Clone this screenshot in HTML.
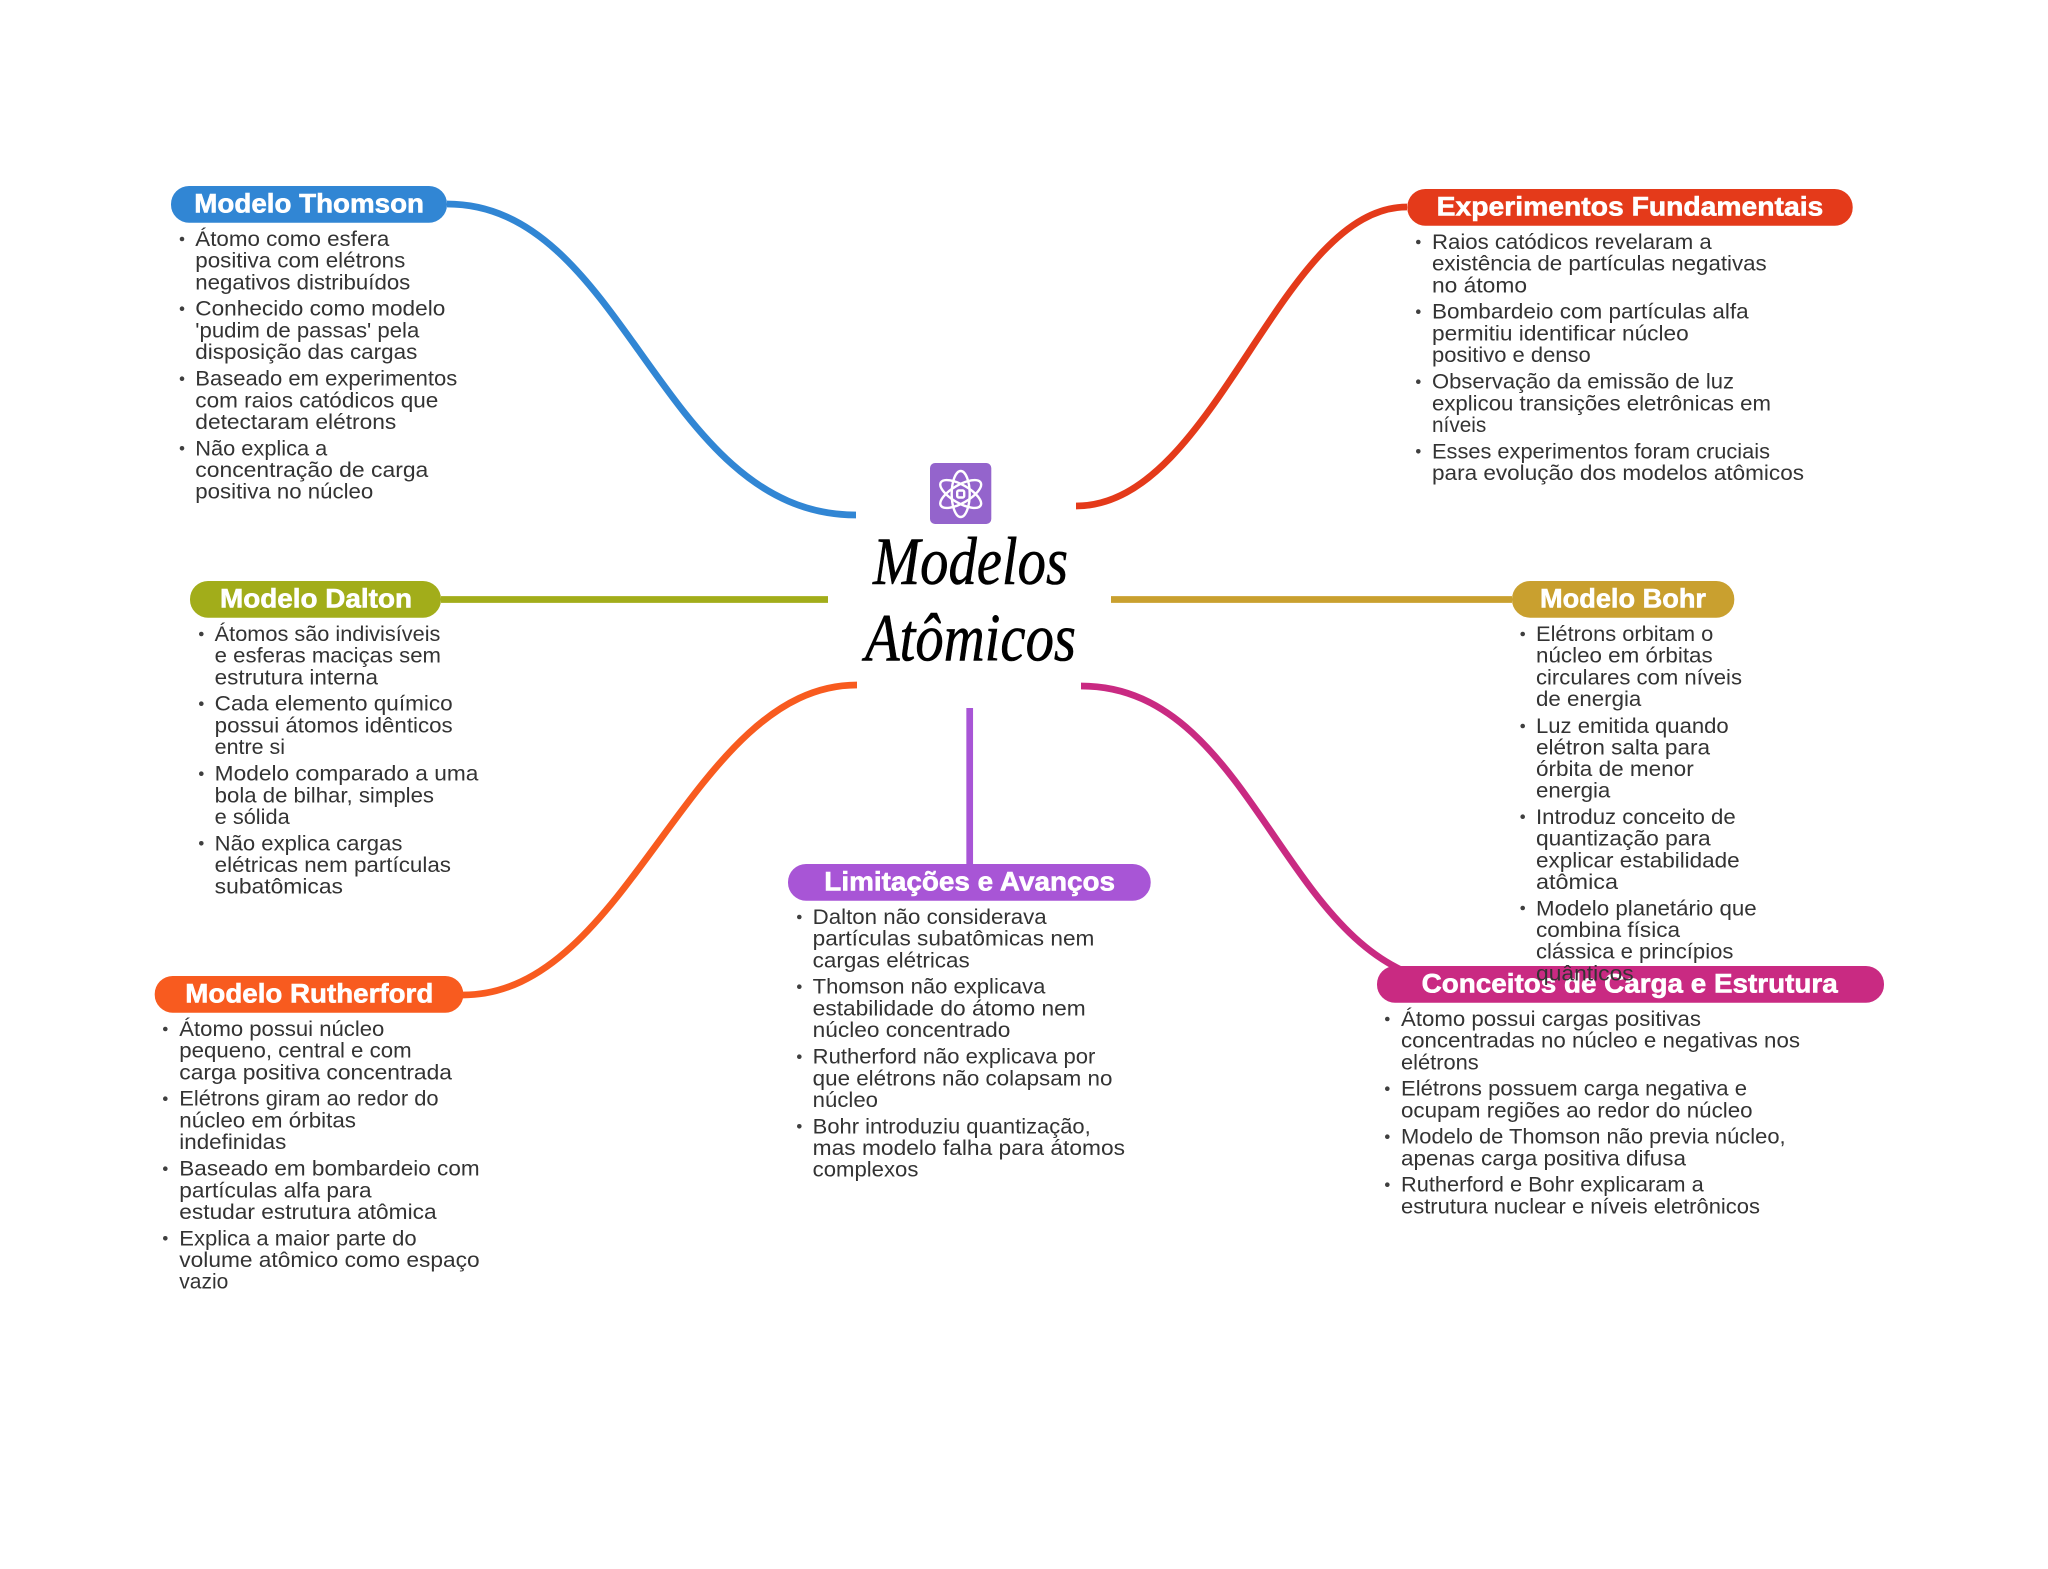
<!DOCTYPE html>
<html lang="pt"><head><meta charset="utf-8"><title>Modelos Atômicos</title>
<style>
html,body{margin:0;padding:0;background:#fff;width:2048px;height:1569px;overflow:hidden}
svg{display:block}
.b text{font-family:"Liberation Sans",sans-serif;font-size:21px;fill:#333}
.t{font-family:"Liberation Sans",sans-serif;font-size:27px;font-weight:700;fill:#fff;stroke:#fff;stroke-width:.6}
.m{font-family:"Liberation Serif",serif;font-style:italic;font-size:68px;fill:#000;stroke:#000;stroke-width:.6}
</style></head><body>
<svg xmlns="http://www.w3.org/2000/svg" width="2048" height="1569" viewBox="0 0 2048 1569">
<rect width="2048" height="1569" fill="#fff"/>
<g fill="none" stroke-width="6.7">
<path d="M447,204 C626,204 660,515 856,515" stroke="#3186d4"/>
<path d="M1076,506 C1216,506 1279,207 1407,207" stroke="#e43a1a"/>
<path d="M463,995 C630,995 690,685 857,685" stroke="#f85b1f"/>
<path d="M1081,686 C1262,686 1285,984 1465,984" stroke="#c92a82"/>
<path d="M441,599.5 H828" stroke="#a2ad1a"/>
<path d="M1111,599.5 H1512" stroke="#c9a02f"/>
<path d="M969.7,708 V864" stroke="#a855d6"/>
</g>
<rect x="930" y="463" width="61.3" height="61" rx="5" fill="#9464cc"/>
<g fill="none" stroke="#fff" stroke-width="2.4" transform="translate(960.7 494)">
<ellipse rx="9" ry="23"/>
<ellipse rx="9" ry="23" transform="rotate(60)"/>
<ellipse rx="9" ry="23" transform="rotate(-60)"/>
<rect x="-3.5" y="-3.5" width="7" height="7" rx="1.5"/>
</g>
<text class="m" x="873" y="584" textLength="195" lengthAdjust="spacingAndGlyphs">Modelos</text>
<text class="m" x="865" y="660.7" textLength="211" lengthAdjust="spacingAndGlyphs">Atômicos</text>

<rect x="171" y="186" width="276" height="36.7" rx="18" fill="#3186d4"/>
<rect x="1407.3" y="189" width="445.4" height="36.7" rx="18" fill="#e43a1a"/>
<rect x="190" y="581" width="251" height="36.7" rx="18" fill="#a2ad1a"/>
<rect x="1512" y="581" width="222.3" height="36.7" rx="18" fill="#c9a02f"/>
<rect x="154.7" y="976" width="308.6" height="36.7" rx="18" fill="#f85b1f"/>
<rect x="788" y="864" width="362.7" height="36.7" rx="18" fill="#a855d6"/>
<rect x="1377" y="966" width="507" height="36.7" rx="18" fill="#c92a82"/>

<text class="t" x="194.3" y="212.7" textLength="229.7" lengthAdjust="spacingAndGlyphs">Modelo Thomson</text>
<text class="t" x="1436.7" y="215.7" textLength="386.6" lengthAdjust="spacingAndGlyphs">Experimentos Fundamentais</text>
<text class="t" x="220" y="607.7" textLength="192" lengthAdjust="spacingAndGlyphs">Modelo Dalton</text>
<text class="t" x="1540" y="607.7" textLength="166" lengthAdjust="spacingAndGlyphs">Modelo Bohr</text>
<text class="t" x="185.3" y="1002.7" textLength="248" lengthAdjust="spacingAndGlyphs">Modelo Rutherford</text>
<text class="t" x="824.3" y="890.7" textLength="290.7" lengthAdjust="spacingAndGlyphs">Limitações e Avanços</text>
<text class="t" x="1421.7" y="992.7" textLength="416" lengthAdjust="spacingAndGlyphs">Conceitos de Carga e Estrutura</text>

<g fill="#3f3f3f">
<circle cx="182" cy="239" r="2.3"/><circle cx="182" cy="308.7" r="2.3"/><circle cx="182" cy="378.7" r="2.3"/><circle cx="182" cy="448.3" r="2.3"/>
<circle cx="1418.3" cy="242" r="2.3"/><circle cx="1418.3" cy="311.7" r="2.3"/><circle cx="1418.3" cy="381.7" r="2.3"/><circle cx="1418.3" cy="451.3" r="2.3"/>
<circle cx="201.3" cy="634" r="2.3"/><circle cx="201.3" cy="703.7" r="2.3"/><circle cx="201.3" cy="773.7" r="2.3"/><circle cx="201.3" cy="843.3" r="2.3"/>
<circle cx="165.3" cy="1029" r="2.3"/><circle cx="165.3" cy="1098.7" r="2.3"/><circle cx="165.3" cy="1168.7" r="2.3"/><circle cx="165.3" cy="1238.3" r="2.3"/>
<circle cx="799.3" cy="917" r="2.3"/><circle cx="799.3" cy="986.7" r="2.3"/><circle cx="799.3" cy="1056.7" r="2.3"/><circle cx="799.3" cy="1126.3" r="2.3"/>
<circle cx="1387.3" cy="1019" r="2.3"/><circle cx="1387.3" cy="1088.7" r="2.3"/><circle cx="1387.3" cy="1136.7" r="2.3"/><circle cx="1387.3" cy="1184.7" r="2.3"/>
<circle cx="1522.7" cy="634" r="2.3"/><circle cx="1522.7" cy="726" r="2.3"/><circle cx="1522.7" cy="816.7" r="2.3"/><circle cx="1522.7" cy="908" r="2.3"/>
</g>

<g class="b">
<text x="195.3" y="246" textLength="194" lengthAdjust="spacingAndGlyphs">Átomo como esfera</text>
<text x="195.3" y="267.7" textLength="210" lengthAdjust="spacingAndGlyphs">positiva com elétrons</text>
<text x="195.3" y="289.3" textLength="215" lengthAdjust="spacingAndGlyphs">negativos distribuídos</text>
<text x="195.3" y="315.7" textLength="250" lengthAdjust="spacingAndGlyphs">Conhecido como modelo</text>
<text x="195.3" y="337.3" textLength="224" lengthAdjust="spacingAndGlyphs">'pudim de passas' pela</text>
<text x="195.3" y="359" textLength="222" lengthAdjust="spacingAndGlyphs">disposição das cargas</text>
<text x="195.3" y="385.7" textLength="262" lengthAdjust="spacingAndGlyphs">Baseado em experimentos</text>
<text x="195.3" y="407.3" textLength="243" lengthAdjust="spacingAndGlyphs">com raios catódicos que</text>
<text x="195.3" y="429" textLength="201" lengthAdjust="spacingAndGlyphs">detectaram elétrons</text>
<text x="195.3" y="455.3" textLength="132" lengthAdjust="spacingAndGlyphs">Não explica a</text>
<text x="195.3" y="477" textLength="233" lengthAdjust="spacingAndGlyphs">concentração de carga</text>
<text x="195.3" y="498.7" textLength="178" lengthAdjust="spacingAndGlyphs">positiva no núcleo</text>

<text x="1432" y="249" textLength="279.7" lengthAdjust="spacingAndGlyphs">Raios catódicos revelaram a</text>
<text x="1432" y="270.7" textLength="334.7" lengthAdjust="spacingAndGlyphs">existência de partículas negativas</text>
<text x="1432" y="292.3" textLength="95" lengthAdjust="spacingAndGlyphs">no átomo</text>
<text x="1432" y="318.7" textLength="316.7" lengthAdjust="spacingAndGlyphs">Bombardeio com partículas alfa</text>
<text x="1432" y="340.3" textLength="256.7" lengthAdjust="spacingAndGlyphs">permitiu identificar núcleo</text>
<text x="1432" y="362" textLength="158.7" lengthAdjust="spacingAndGlyphs">positivo e denso</text>
<text x="1432" y="388.7" textLength="302" lengthAdjust="spacingAndGlyphs">Observação da emissão de luz</text>
<text x="1432" y="410.3" textLength="339" lengthAdjust="spacingAndGlyphs">explicou transições eletrônicas em</text>
<text x="1432" y="432" textLength="54.3" lengthAdjust="spacingAndGlyphs">níveis</text>
<text x="1432" y="458.3" textLength="338" lengthAdjust="spacingAndGlyphs">Esses experimentos foram cruciais</text>
<text x="1432" y="480" textLength="372" lengthAdjust="spacingAndGlyphs">para evolução dos modelos atômicos</text>

<text x="214.7" y="641" textLength="225.7" lengthAdjust="spacingAndGlyphs">Átomos são indivisíveis</text>
<text x="214.7" y="662.7" textLength="226.3" lengthAdjust="spacingAndGlyphs">e esferas maciças sem</text>
<text x="214.7" y="684.3" textLength="163.3" lengthAdjust="spacingAndGlyphs">estrutura interna</text>
<text x="214.7" y="710.7" textLength="238" lengthAdjust="spacingAndGlyphs">Cada elemento químico</text>
<text x="214.7" y="732.3" textLength="238" lengthAdjust="spacingAndGlyphs">possui átomos idênticos</text>
<text x="214.7" y="754" textLength="70.3" lengthAdjust="spacingAndGlyphs">entre si</text>
<text x="214.7" y="780.7" textLength="263.7" lengthAdjust="spacingAndGlyphs">Modelo comparado a uma</text>
<text x="214.7" y="802.3" textLength="219.3" lengthAdjust="spacingAndGlyphs">bola de bilhar, simples</text>
<text x="214.7" y="824" textLength="75" lengthAdjust="spacingAndGlyphs">e sólida</text>
<text x="214.7" y="850.3" textLength="187.7" lengthAdjust="spacingAndGlyphs">Não explica cargas</text>
<text x="214.7" y="872" textLength="236.3" lengthAdjust="spacingAndGlyphs">elétricas nem partículas</text>
<text x="214.7" y="893.7" textLength="128.3" lengthAdjust="spacingAndGlyphs">subatômicas</text>

<text x="179.3" y="1036" textLength="205" lengthAdjust="spacingAndGlyphs">Átomo possui núcleo</text>
<text x="179.3" y="1057.7" textLength="232.3" lengthAdjust="spacingAndGlyphs">pequeno, central e com</text>
<text x="179.3" y="1079.3" textLength="272.7" lengthAdjust="spacingAndGlyphs">carga positiva concentrada</text>
<text x="179.3" y="1105.7" textLength="259.3" lengthAdjust="spacingAndGlyphs">Elétrons giram ao redor do</text>
<text x="179.3" y="1127.3" textLength="176.7" lengthAdjust="spacingAndGlyphs">núcleo em órbitas</text>
<text x="179.3" y="1149" textLength="107" lengthAdjust="spacingAndGlyphs">indefinidas</text>
<text x="179.3" y="1175.7" textLength="300.3" lengthAdjust="spacingAndGlyphs">Baseado em bombardeio com</text>
<text x="179.3" y="1197.3" textLength="192.3" lengthAdjust="spacingAndGlyphs">partículas alfa para</text>
<text x="179.3" y="1219" textLength="257.3" lengthAdjust="spacingAndGlyphs">estudar estrutura atômica</text>
<text x="179.3" y="1245.3" textLength="237.3" lengthAdjust="spacingAndGlyphs">Explica a maior parte do</text>
<text x="179.3" y="1267" textLength="300.3" lengthAdjust="spacingAndGlyphs">volume atômico como espaço</text>
<text x="179.3" y="1288.7" textLength="49" lengthAdjust="spacingAndGlyphs">vazio</text>

<text x="812.7" y="924" textLength="234" lengthAdjust="spacingAndGlyphs">Dalton não considerava</text>
<text x="812.7" y="945.7" textLength="281.7" lengthAdjust="spacingAndGlyphs">partículas subatômicas nem</text>
<text x="812.7" y="967.3" textLength="157" lengthAdjust="spacingAndGlyphs">cargas elétricas</text>
<text x="812.7" y="993.7" textLength="232.7" lengthAdjust="spacingAndGlyphs">Thomson não explicava</text>
<text x="812.7" y="1015.3" textLength="273" lengthAdjust="spacingAndGlyphs">estabilidade do átomo nem</text>
<text x="812.7" y="1037" textLength="197.7" lengthAdjust="spacingAndGlyphs">núcleo concentrado</text>
<text x="812.7" y="1063.7" textLength="282.7" lengthAdjust="spacingAndGlyphs">Rutherford não explicava por</text>
<text x="812.7" y="1085.3" textLength="299.7" lengthAdjust="spacingAndGlyphs">que elétrons não colapsam no</text>
<text x="812.7" y="1107" textLength="65.3" lengthAdjust="spacingAndGlyphs">núcleo</text>
<text x="812.7" y="1133.3" textLength="278" lengthAdjust="spacingAndGlyphs">Bohr introduziu quantização,</text>
<text x="812.7" y="1155" textLength="312.3" lengthAdjust="spacingAndGlyphs">mas modelo falha para átomos</text>
<text x="812.7" y="1176.7" textLength="105.7" lengthAdjust="spacingAndGlyphs">complexos</text>

<text x="1401" y="1026" textLength="300" lengthAdjust="spacingAndGlyphs">Átomo possui cargas positivas</text>
<text x="1401" y="1047.7" textLength="399" lengthAdjust="spacingAndGlyphs">concentradas no núcleo e negativas nos</text>
<text x="1401" y="1069.3" textLength="77.7" lengthAdjust="spacingAndGlyphs">elétrons</text>
<text x="1401" y="1095.7" textLength="346" lengthAdjust="spacingAndGlyphs">Elétrons possuem carga negativa e</text>
<text x="1401" y="1117.3" textLength="351.6" lengthAdjust="spacingAndGlyphs">ocupam regiões ao redor do núcleo</text>
<text x="1401" y="1143.7" textLength="384.6" lengthAdjust="spacingAndGlyphs">Modelo de Thomson não previa núcleo,</text>
<text x="1401" y="1165.3" textLength="285" lengthAdjust="spacingAndGlyphs">apenas carga positiva difusa</text>
<text x="1401" y="1191.7" textLength="302.7" lengthAdjust="spacingAndGlyphs">Rutherford e Bohr explicaram a</text>
<text x="1401" y="1213.3" textLength="359" lengthAdjust="spacingAndGlyphs">estrutura nuclear e níveis eletrônicos</text>

<text x="1536" y="641" textLength="177.3" lengthAdjust="spacingAndGlyphs">Elétrons orbitam o</text>
<text x="1536" y="662.7" textLength="176.7" lengthAdjust="spacingAndGlyphs">núcleo em órbitas</text>
<text x="1536" y="684.3" textLength="206" lengthAdjust="spacingAndGlyphs">circulares com níveis</text>
<text x="1536" y="706" textLength="105.3" lengthAdjust="spacingAndGlyphs">de energia</text>
<text x="1536" y="733" textLength="192.7" lengthAdjust="spacingAndGlyphs">Luz emitida quando</text>
<text x="1536" y="754.3" textLength="174" lengthAdjust="spacingAndGlyphs">elétron salta para</text>
<text x="1536" y="776" textLength="157.7" lengthAdjust="spacingAndGlyphs">órbita de menor</text>
<text x="1536" y="797.7" textLength="74.3" lengthAdjust="spacingAndGlyphs">energia</text>
<text x="1536" y="824" textLength="199.7" lengthAdjust="spacingAndGlyphs">Introduz conceito de</text>
<text x="1536" y="845.7" textLength="174.7" lengthAdjust="spacingAndGlyphs">quantização para</text>
<text x="1536" y="867.3" textLength="203.7" lengthAdjust="spacingAndGlyphs">explicar estabilidade</text>
<text x="1536" y="889" textLength="82" lengthAdjust="spacingAndGlyphs">atômica</text>
<text x="1536" y="915.3" textLength="220.7" lengthAdjust="spacingAndGlyphs">Modelo planetário que</text>
<text x="1536" y="937" textLength="144" lengthAdjust="spacingAndGlyphs">combina física</text>
<text x="1536" y="958.7" textLength="197.4" lengthAdjust="spacingAndGlyphs">clássica e princípios</text>
<text x="1536" y="980.3" textLength="97.7" lengthAdjust="spacingAndGlyphs">quânticos</text>
</g>
</svg>
</body></html>
